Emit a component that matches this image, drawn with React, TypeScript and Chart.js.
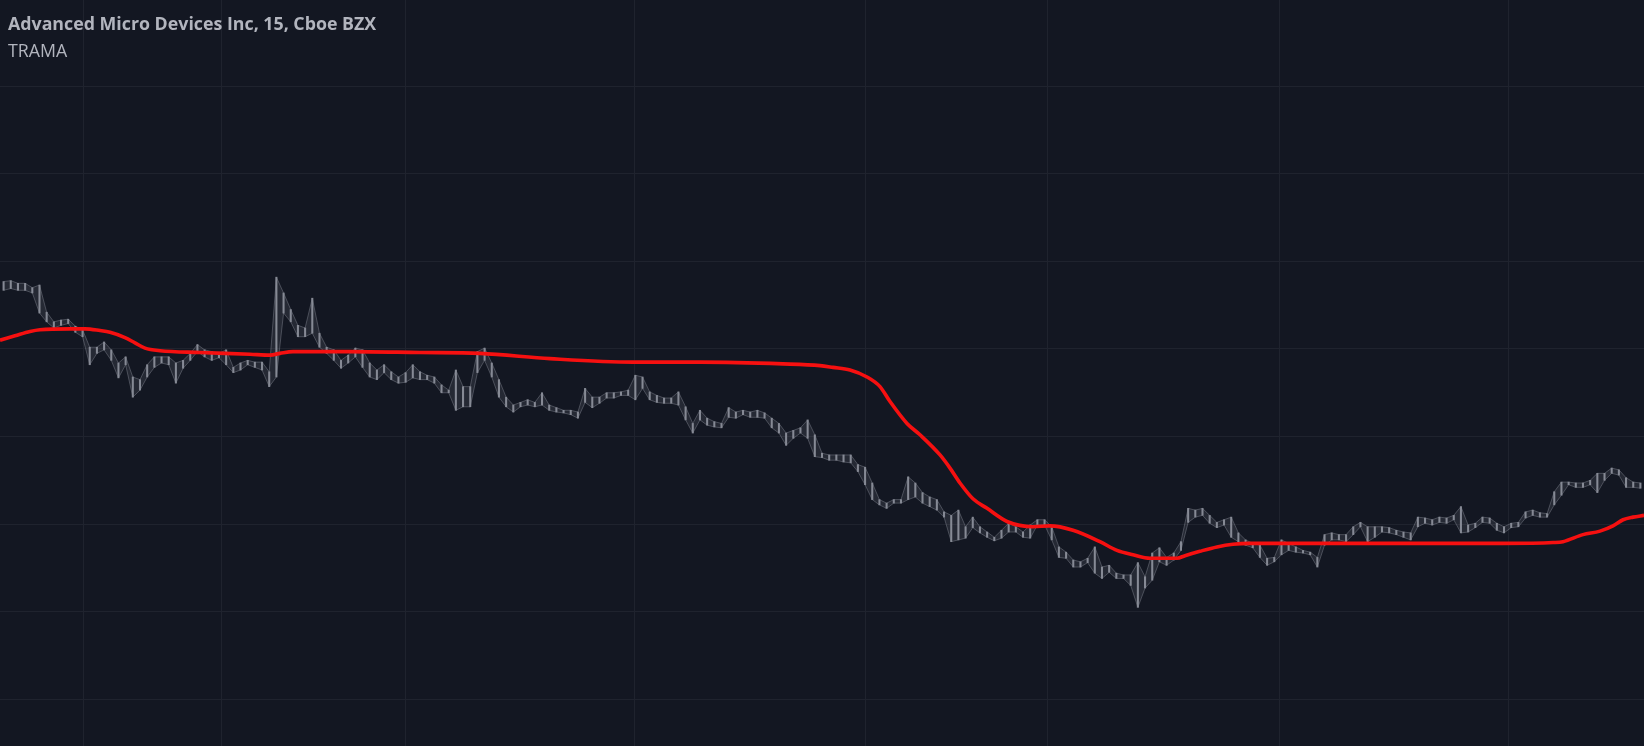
import React, { useEffect, useRef } from "react";
import { Chart, registerables } from "chart.js";

Chart.register(...registerables);

// Bar highs / lows (15-minute bars, every other bar)
const highs = [
  100.77, 100.78, 100.75, 100.75, 100.70, 100.73, 100.42, 100.31, 100.33, 100.34,
  100.26, 100.22, 100.02, 100.02, 100.08, 99.99, 99.84, 99.91, 99.68, 99.65,
  99.82, 99.91, 99.91, 99.91, 99.84, 99.87, 99.95, 100.05, 99.99, 99.97,
  99.95, 99.99, 99.79, 99.84, 99.87, 99.85, 99.85, 99.74, 100.82, 100.64,
  100.45, 100.27, 100.24, 100.58, 100.18, 100.02, 99.99, 99.87, 99.93, 100.01,
  99.99, 99.84, 99.76, 99.82, 99.74, 99.68, 99.73, 99.82, 99.74, 99.70,
  99.68, 99.59, 99.53, 99.76, 99.57, 99.57, 99.97, 100.01, 99.84, 99.65,
  99.45, 99.36, 99.39, 99.42, 99.39, 99.50, 99.36, 99.33, 99.30, 99.30,
  99.28, 99.55, 99.45, 99.45, 99.50, 99.50, 99.51, 99.53, 99.70, 99.68,
  99.51, 99.47, 99.44, 99.44, 99.51, 99.34, 99.15, 99.30, 99.21, 99.17,
  99.15, 99.33, 99.28, 99.30, 99.28, 99.30, 99.27, 99.21, 99.15, 99.04,
  99.07, 99.10, 99.19, 99.02, 98.81, 98.79, 98.79, 98.79, 98.79, 98.68,
  98.65, 98.47, 98.28, 98.24, 98.28, 98.28, 98.54, 98.47, 98.36, 98.31,
  98.28, 98.14, 98.10, 98.16, 97.97, 98.08, 97.97, 97.91, 97.85, 97.93,
  98.01, 97.97, 97.91, 97.99, 98.05, 98.05, 97.97, 97.74, 97.68, 97.59,
  97.57, 97.61, 97.74, 97.51, 97.53, 97.44, 97.42, 97.42, 97.56, 97.40,
  97.67, 97.73, 97.62, 97.67, 97.80, 98.18, 98.16, 98.18, 98.10, 98.02,
  98.05, 98.08, 97.90, 97.82, 97.78, 97.76, 97.61, 97.62, 97.82, 97.78,
  97.74, 97.70, 97.68, 97.62, 97.88, 97.90, 97.88, 97.88, 97.97, 98.02,
  97.97, 97.97, 97.97, 97.96, 97.93, 97.91, 97.90, 98.08, 98.07, 98.05,
  98.08, 98.07, 98.10, 98.20, 97.99, 98.01, 98.08, 98.07, 98.01, 97.97,
  98.01, 98.02, 98.14, 98.16, 98.13, 98.12, 98.37, 98.48, 98.48, 98.47,
  98.47, 98.50, 98.58, 98.58, 98.64, 98.62, 98.53, 98.48, 98.47,
];

const lows = [
  100.67, 100.69, 100.67, 100.67, 100.64, 100.41, 100.31, 100.24, 100.27, 100.29,
  100.19, 100.14, 99.82, 99.95, 99.99, 99.87, 99.67, 99.82, 99.45, 99.53,
  99.68, 99.79, 99.84, 99.82, 99.61, 99.78, 99.87, 99.97, 99.91, 99.87,
  99.90, 99.82, 99.73, 99.76, 99.82, 99.79, 99.76, 99.57, 99.68, 100.41,
  100.31, 100.14, 100.14, 100.18, 100.02, 99.95, 99.87, 99.78, 99.84, 99.91,
  99.79, 99.68, 99.65, 99.73, 99.65, 99.61, 99.62, 99.67, 99.65, 99.65,
  99.61, 99.50, 99.50, 99.30, 99.34, 99.34, 99.73, 99.87, 99.68, 99.45,
  99.34, 99.28, 99.34, 99.36, 99.34, 99.36, 99.30, 99.28, 99.27, 99.25,
  99.21, 99.39, 99.33, 99.38, 99.44, 99.44, 99.47, 99.47, 99.42, 99.55,
  99.42, 99.39, 99.38, 99.38, 99.36, 99.19, 99.04, 99.19, 99.13, 99.11,
  99.10, 99.22, 99.21, 99.25, 99.22, 99.22, 99.21, 99.10, 99.04, 98.90,
  98.98, 99.04, 98.98, 98.77, 98.76, 98.73, 98.73, 98.71, 98.70, 98.60,
  98.45, 98.28, 98.22, 98.18, 98.24, 98.24, 98.28, 98.31, 98.24, 98.20,
  98.16, 98.08, 97.80, 97.82, 97.84, 97.96, 97.90, 97.85, 97.81, 97.84,
  97.91, 97.91, 97.85, 97.84, 97.99, 97.99, 97.82, 97.62, 97.61, 97.51,
  97.51, 97.56, 97.44, 97.38, 97.45, 97.38, 97.38, 97.30, 97.05, 97.27,
  97.36, 97.57, 97.53, 97.59, 97.70, 98.02, 98.08, 98.10, 98.01, 97.96,
  97.99, 97.85, 97.80, 97.76, 97.73, 97.62, 97.53, 97.57, 97.65, 97.70,
  97.68, 97.67, 97.65, 97.51, 97.76, 97.82, 97.82, 97.80, 97.88, 97.97,
  97.80, 97.85, 97.91, 97.90, 97.88, 97.85, 97.82, 97.97, 98.01, 97.99,
  98.02, 98.01, 98.05, 97.90, 97.91, 97.96, 98.02, 98.01, 97.93, 97.90,
  97.96, 97.97, 98.07, 98.10, 98.08, 98.08, 98.22, 98.33, 98.45, 98.42,
  98.42, 98.45, 98.36, 98.50, 98.58, 98.56, 98.42, 98.42, 98.41,
];

// TRAMA line, read at bar positions
const tramaX = [
  -0.5, 1.59, 3.68, 5.07, 9.25, 11.34, 13.43, 14.82, 16.91, 18.3,
  19.7, 21.79, 27.36, 34.32, 37.11, 38.5, 40.31, 48.25, 58.0, 66.36,
  76.11, 87.67, 97.0, 108.57, 113.72, 115.53, 117.9, 120.27, 122.08, 123.47,
  125.84, 127.65, 130.44, 131.83, 133.22, 135.03, 136.99, 139.77, 143.39, 145.76,
  148.96, 152.72, 155.09, 157.32, 159.69, 163.45, 164.56, 166.65, 169.02, 171.25,
  173.62, 194.5, 208.8, 215.82, 217.22, 220.0, 222.37, 224.18, 225.58, 226.97,
  228.5,
];
const tramaY = [
  100.10, 100.15, 100.20, 100.22, 100.23, 100.23, 100.21, 100.19, 100.13, 100.07,
  100.01, 99.98, 99.96, 99.94, 99.93, 99.95, 99.97, 99.97, 99.96, 99.95,
  99.89, 99.85, 99.85, 99.83, 99.81, 99.79, 99.76, 99.68, 99.57, 99.40,
  99.15, 99.02, 98.79, 98.64, 98.47, 98.29, 98.18, 98.03, 97.97, 97.98,
  97.93, 97.80, 97.70, 97.65, 97.61, 97.61, 97.64, 97.69, 97.74, 97.77,
  97.78, 97.78, 97.78, 97.79, 97.80, 97.88, 97.92, 97.98, 98.05, 98.08,
  98.10,
];

// Day separators (time grid) and price grid levels
const daySeparators = [11.2, 30.42, 56.05, 87.95, 119.99, 145.48, 177.66, 209.56];
const priceLevels = [96, 97, 98, 99, 100, 101, 102, 103];

const X_MIN = -0.5;
const X_MAX = 228.5;
const Y_MIN = 95.4665;
const Y_MAX = 103.985;

const TITLE = "Advanced Micro Devices Inc, 15, Cboe BZX";
const SUBTITLE = "TRAMA";

export default function App() {
  const canvasRef = useRef<HTMLCanvasElement | null>(null);

  useEffect(() => {
    document.body.style.margin = "0";
    document.body.style.background = "#131722";
    document.body.style.overflow = "hidden";
    const canvas = canvasRef.current;
    if (!canvas) return;

    const barData = highs.map((h, i) => ({ x: i, y: [lows[i], h] }));
    const highLine = highs.map((h, i) => ({ x: i, y: h }));
    const lowLine = lows.map((l, i) => ({ x: i, y: l }));
    const tramaData = tramaX.map((x, i) => ({ x, y: tramaY[i] }));

    const chart = new Chart(canvas, {
      type: "bar",
      data: {
        datasets: [
          {
            type: "line",
            label: "TRAMA",
            data: tramaData as any,
            borderColor: "rgb(246, 16, 16)",
            borderWidth: 3.6,
            pointRadius: 0,
            cubicInterpolationMode: "monotone",
            fill: false,
            order: 0,
          } as any,
          {
            type: "bar",
            label: "AMD",
            data: barData as any,
            backgroundColor: "#868a95",
            borderWidth: 0,
            barThickness: 1.4,
            grouped: false,
            order: 1,
          } as any,
          {
            type: "line",
            label: "High",
            data: highLine as any,
            borderColor: "rgba(134,138,149,0.45)",
            borderWidth: 1,
            pointRadius: 0,
            tension: 0,
            fill: false,
            order: 2,
          } as any,
          {
            type: "line",
            label: "Low",
            data: lowLine as any,
            borderColor: "rgba(134,138,149,0.45)",
            borderWidth: 1,
            pointRadius: 0,
            tension: 0,
            fill: 2,
            backgroundColor: "rgba(134,138,149,0.16)",
            order: 3,
          } as any,
        ],
      },
      options: {
        responsive: false,
        animation: false,
        layout: { padding: 0 },
        plugins: {
          legend: { display: false },
          tooltip: { enabled: false },
          title: { display: false },
          filler: { propagate: false },
        },
        scales: {
          x: {
            type: "linear",
            min: X_MIN,
            max: X_MAX,
            offset: false,
            afterBuildTicks: (axis: any) => {
              axis.ticks = daySeparators.map((v) => ({ value: v }));
            },
            ticks: { display: false },
            grid: { color: "#1f232e", lineWidth: 1, drawTicks: false, tickLength: 0, offset: false },
            border: { display: false },
          },
          y: {
            type: "linear",
            position: "right",
            min: Y_MIN,
            max: Y_MAX,
            afterBuildTicks: (axis: any) => {
              axis.ticks = priceLevels.map((v) => ({ value: v }));
            },
            ticks: { display: false },
            grid: { color: "#1f232e", lineWidth: 1, drawTicks: false, tickLength: 0, offset: false },
            border: { display: true, color: "#2a2e39", width: 1 },
          },
        },
      } as any,
    });

    return () => chart.destroy();
  }, []);

  return (
    <div
      style={{
        position: "relative",
        width: 1644,
        height: 746,
        background: "#131722",
        overflow: "hidden",
      }}
    >
      <canvas ref={canvasRef} width={1644} height={746} style={{ display: "block" }} />
      <div
        style={{
          position: "absolute",
          left: 8,
          top: 9.5,
          fontFamily: "'Open Sans', sans-serif",
          fontSize: 17.8,
          lineHeight: "27px",
          color: "#b2b5be",
          pointerEvents: "none",
          whiteSpace: "nowrap",
        }}
      >
        <div style={{ fontWeight: 700 }}>{TITLE}</div>
        <div style={{ fontWeight: 400 }}>{SUBTITLE}</div>
      </div>
    </div>
  );
}
